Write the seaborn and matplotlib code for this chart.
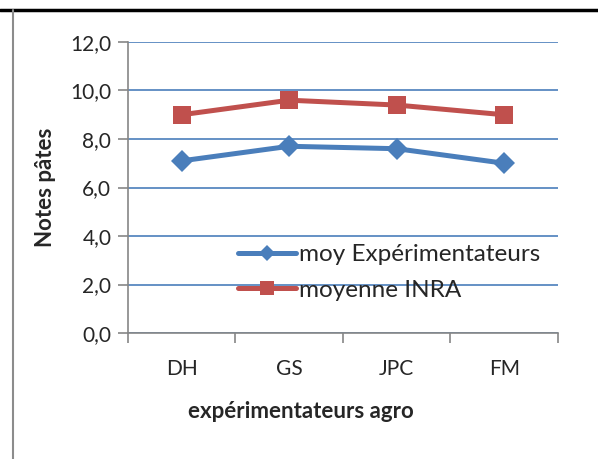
import pandas as pd
import seaborn as sns
import matplotlib.pyplot as plt
from matplotlib.lines import Line2D
from matplotlib.ticker import FuncFormatter, FixedLocator

# données
categories = ['DH', 'GS', 'JPC', 'FM']
moy_experimentateurs = [7.1, 7.7, 7.6, 7.0]
moyenne_inra = [9.0, 9.6, 9.4, 9.0]
series_names = ['moy Expérimentateurs', 'moyenne INRA']

df = pd.DataFrame({
    'x': list(range(len(categories))) * 2,
    'note': moy_experimentateurs + moyenne_inra,
    'serie': [series_names[0]] * 4 + [series_names[1]] * 4,
})

sns.set_style('white')
plt.rcParams['font.family'] = ['Lato', 'DejaVu Sans']

fig = plt.figure(figsize=(5.98, 4.59), dpi=100)
ax = fig.add_axes([0.214, 0.2745, 0.719, 0.634])

palette = {series_names[0]: '#4a7ebb', series_names[1]: '#c0504d'}
markers = {series_names[0]: 'D', series_names[1]: 's'}
sns.lineplot(data=df, x='x', y='note', hue='serie', style='serie',
             palette=palette, markers=markers, dashes=False,
             linewidth=3.6, markersize=12, markeredgewidth=0, ax=ax, zorder=3)
for ln in ax.lines:
    if ln.get_marker() == 'D':
        ln.set_markersize(11)
    elif ln.get_marker() == 's':
        ln.set_markersize(13.5)

ax.set_xlim(-0.5, 3.5)
ax.set_ylim(0, 12)
ax.set_yticks([0, 2, 4, 6, 8, 10, 12])
ax.yaxis.set_major_formatter(FuncFormatter(lambda v, p: f'{v:.1f}'.replace('.', ',')))
ax.set_xticks(range(len(categories)))
ax.set_xticklabels(categories)
ax.xaxis.set_minor_locator(FixedLocator([-0.5, 0.5, 1.5, 2.5, 3.5]))

ax.grid(axis='y', color='#4a7ebb', linewidth=1.2, zorder=0)
ax.grid(axis='x', visible=False)
ax.set_axisbelow(True)

for s in ['top', 'right']:
    ax.spines[s].set_visible(False)
for s in ['left', 'bottom']:
    ax.spines[s].set_color('#868686')
    ax.spines[s].set_linewidth(1.2)

ax.tick_params(axis='y', which='major', direction='out', length=7, width=1.2,
               color='#868686', left=True, labelsize=15, pad=5)
ax.tick_params(axis='x', which='major', length=0, labelsize=15, pad=19)
ax.tick_params(axis='x', which='minor', direction='out', length=7, width=1.2,
               color='#868686', bottom=True)

ax.set_xlabel('expérimentateurs agro', fontsize=16, fontweight='bold')
ax.xaxis.set_label_coords(0.402, -0.235)
ax.set_ylabel('Notes pâtes', fontsize=16, fontweight='bold')
ax.yaxis.set_label_coords(-0.168, 0.5)

leg = ax.legend(loc='upper left', bbox_to_anchor=(0.205, 0.38), frameon=False,
                fontsize=17.5, handlelength=2.4, handletextpad=0.1, labelspacing=0.6,
                markerscale=0.75, title=None)

# cadre de la figure
fig.add_artist(Line2D([0, 1], [0.978, 0.978], color='black', linewidth=2.5,
                      transform=fig.transFigure))
fig.add_artist(Line2D([0.021, 0.021], [0, 0.978], color='#8c8c8c', linewidth=1.5,
                      transform=fig.transFigure))

plt.savefig('out.png', dpi=100)
plt.close()
